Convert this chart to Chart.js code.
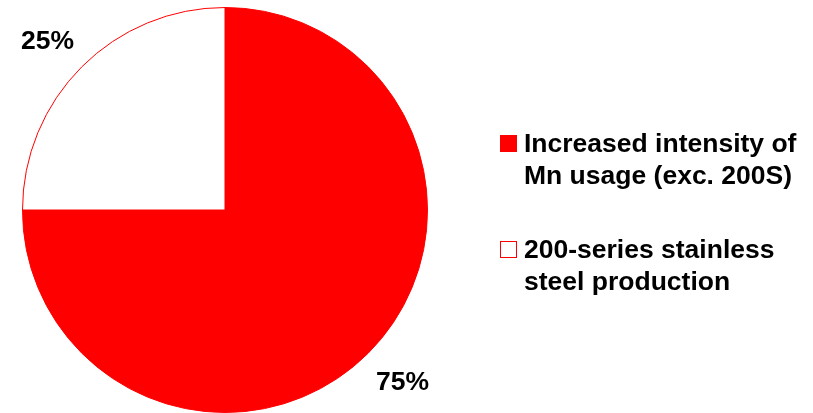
<!DOCTYPE html>
<html>
<head>
<meta charset="utf-8">
<script src="https://cdn.jsdelivr.net/npm/chart.js@4/dist/chart.umd.min.js"></script>
<style>
  html, body { margin: 0; padding: 0; background: #fff; overflow: hidden; }
  #wrap { position: relative; width: 813px; height: 420px; }
</style>
</head>
<body>
<div id="wrap"><canvas id="chart" width="813" height="420"></canvas></div>
<script>
// Mn demand growth split
var categories = [
	['Increased intensity of', 'Mn usage (exc. 200S)'],
	['200-series stainless', 'steel production']
];
var shares = [75, 25];
var fills = ['#ff0000', '#ffffff'];

var FONT = 'bold 26.5px "Liberation Sans", Arial, sans-serif';

// percentage labels outside each slice, along its mid angle
var sliceLabels = {
	id: 'sliceLabels',
	afterDatasetsDraw: function (chart) {
		var ctx = chart.ctx;
		var meta = chart.getDatasetMeta(0);
		ctx.save();
		ctx.font = FONT;
		ctx.fillStyle = '#000';
		ctx.textAlign = 'center';
		ctx.textBaseline = 'middle';
		meta.data.forEach(function (arc, i) {
			var p = arc.getProps(['x', 'y', 'startAngle', 'endAngle', 'outerRadius'], true);
			var mid = (p.startAngle + p.endAngle) / 2;
			var x = p.x + Math.cos(mid) * p.outerRadius * 1.24;
			var y = p.y + Math.sin(mid) * p.outerRadius * 1.19 + 2;
			ctx.fillText(shares[i] + '%', x, y);
		});
		ctx.restore();
	}
};

// two-line legend on the right
var sideLegend = {
	id: 'sideLegend',
	afterDraw: function (chart) {
		var ctx = chart.ctx;
		var tops = [135, 241];
		ctx.save();
		ctx.font = FONT;
		ctx.textBaseline = 'alphabetic';
		categories.forEach(function (lines, i) {
			var top = tops[i];
			ctx.fillStyle = fills[i];
			ctx.fillRect(500, top, 17, 17);
			ctx.strokeStyle = '#ff0000';
			ctx.lineWidth = 1;
			ctx.strokeRect(500.5, top + 0.5, 16, 16);
			ctx.fillStyle = '#000';
			lines.forEach(function (line, j) {
				ctx.fillText(line, 524, top + 17 + j * 32);
			});
		});
		ctx.restore();
	}
};

new Chart(document.getElementById('chart'), {
	type: 'pie',
	data: {
		labels: categories.map(function (l) { return l.join(' '); }),
		datasets: [{
			data: shares,
			backgroundColor: fills,
			borderColor: '#ff0000',
			borderWidth: 1
		}]
	},
	options: {
		responsive: false,
		animation: false,
		layout: { padding: { left: 22, right: 385, top: 7, bottom: 7 } },
		plugins: {
			legend: { display: false },
			tooltip: { enabled: false }
		}
	},
	plugins: [sliceLabels, sideLegend]
});
</script>
</body>
</html>
